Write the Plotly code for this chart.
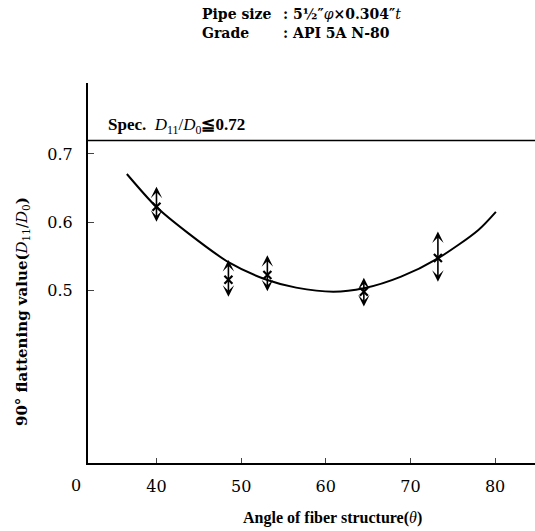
import plotly.graph_objects as go

# Measured flattening values at each fiber angle: centre value and scatter band
angles = [40.0, 48.5, 53.1, 64.5, 73.25]
flat_mean = [0.6225, 0.515, 0.522, 0.4975, 0.547]
flat_high = [0.652, 0.544, 0.551, 0.518, 0.586]
flat_low = [0.598, 0.488, 0.496, 0.4735, 0.510]

# Trend curve traced through the data
curve_x = [36.5, 40.0, 43.7, 48.5, 53.1, 56.5, 60.9, 64.5, 68.9, 73.25, 78.0, 80.1]
curve_y = [0.6706, 0.622, 0.584, 0.541, 0.5147, 0.5035, 0.4975, 0.5025, 0.5196, 0.5466, 0.588, 0.615]

spec_limit = 0.72

x_ticks = [40, 50, 60, 70, 80]
y_ticks = [0.5, 0.6, 0.7]
y_tick_text = ["0.5", "0.6", "0.7"]

SERIF = "DejaVu Serif, Liberation Serif, serif"
TIMES = "Liberation Serif, Times New Roman, serif"

fig = go.Figure()

fig.add_trace(go.Scatter(
    x=curve_x, y=curve_y, mode="lines",
    line=dict(color="black", width=2, shape="spline", smoothing=0.8),
    hoverinfo="skip", showlegend=False,
))

fig.add_trace(go.Scatter(
    x=angles, y=flat_mean, mode="markers",
    marker=dict(symbol="x-thin", size=8, line=dict(color="black", width=2.2)),
    showlegend=False,
))

# Double-headed arrows spanning each scatter band
for xa, hi, lo in zip(angles, flat_high, flat_low):
    fig.add_annotation(
        x=xa, y=hi, ax=xa, ay=lo, xref="x", yref="y", axref="x", ayref="y",
        showarrow=True, arrowside="end+start", arrowhead=3, arrowsize=1.2,
        arrowwidth=1.6, arrowcolor="black", text="",
    )

# Specification limit line
fig.add_shape(type="line", xref="paper", x0=0, x1=1, yref="y", y0=spec_limit, y1=spec_limit,
              line=dict(color="black", width=1.5))
fig.add_annotation(
    xref="paper", x=0.04, yref="y", y=spec_limit, yshift=14, xanchor="left",
    text="<b>Spec.  </b><i>D</i><sub>11</sub>/<i>D</i><sub>0</sub><b>≦0.72</b>",
    showarrow=False, font=dict(family=TIMES, size=17, color="black"),
)

# Origin label of the broken value axis
fig.add_annotation(xref="paper", x=0, yref="paper", y=0, xshift=-19, yshift=-34,
                   text="0", showarrow=False, font=dict(family=SERIF, size=16, color="black"))

# Axis titles
fig.add_annotation(xref="paper", yref="paper", x=(332 - 88) / 447, y=0, yshift=-55,
                   yanchor="middle", showarrow=False,
                   text="<b>Angle of fiber structure(</b><i>θ</i><b>)</b>",
                   font=dict(family=TIMES, size=16, color="black"))
fig.add_annotation(xref="paper", yref="paper", x=0, xshift=-66, y=(463 - 312) / 380,
                   xanchor="center", yanchor="middle", textangle=-90, showarrow=False,
                   text="<b>90° flattening value(</b><i>D</i><sub>11</sub>/<i>D</i><sub>0</sub><b>)</b>",
                   font=dict(family=SERIF, size=15, color="black"))

# Header block
hdr_font = dict(family=SERIF, size=14, color="black")
fig.add_annotation(xref="paper", yref="paper", x=(200 - 88) / 447, y=1, yshift=69,
                   xanchor="left", yanchor="middle", text="<b>Pipe size</b>", showarrow=False, font=hdr_font)
fig.add_annotation(xref="paper", yref="paper", x=(200 - 88) / 447, y=1, yshift=50,
                   xanchor="left", yanchor="middle", text="<b>Grade</b>", showarrow=False, font=hdr_font)
fig.add_annotation(xref="paper", yref="paper", x=(281 - 88) / 447, y=1, yshift=69,
                   xanchor="left", yanchor="middle",
                   text="<b>: 5½″</b><i>φ</i><b>×0.304″</b><i>t</i>", showarrow=False, font=hdr_font)
fig.add_annotation(xref="paper", yref="paper", x=(281 - 88) / 447, y=1, yshift=50,
                   xanchor="left", yanchor="middle",
                   text="<b>: API 5A N-80</b>", showarrow=False, font=hdr_font)

fig.update_layout(
    width=535, height=531,
    margin=dict(l=88, r=0, t=83, b=68),
    paper_bgcolor="white", plot_bgcolor="white",
    font=dict(family=SERIF, size=15, color="black"),
    xaxis=dict(
        range=[31.91, 84.72], tickvals=x_ticks, ticks="inside", ticklen=5, tickwidth=1,
        showline=True, linecolor="black", linewidth=2, showgrid=False, zeroline=False,
        tickfont=dict(family=SERIF, size=16), ticklabelstandoff=8,
    ),
    yaxis=dict(
        range=[0.2456, 0.8044], tickvals=y_ticks, ticktext=y_tick_text,
        ticks="inside", ticklen=6, tickwidth=1,
        showline=True, linecolor="black", linewidth=2, showgrid=False, zeroline=False,
        tickfont=dict(family=SERIF, size=16), ticklabelstandoff=10,
    ),
)

fig.write_html("out.html")
